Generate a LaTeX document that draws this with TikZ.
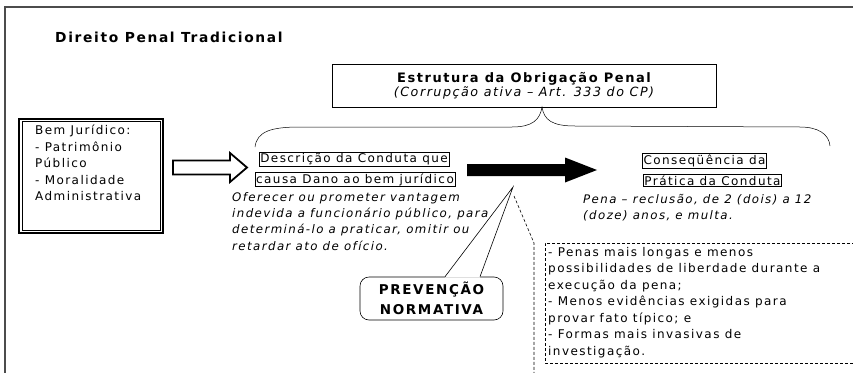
\documentclass[tikz,border=0pt]{standalone}
\usepackage{fontspec}
\setmainfont{DejaVu Sans}
\newfontfamily\handfont[LetterSpace=12]{DejaVu Sans}
\begin{document}
\begin{tikzpicture}[x=1pt,y=-1pt]
\tikzstyle{every node}+=[inner sep=0pt]
\tikzstyle{plain}=[font=\handfont\fontsize{12}{16.5}\selectfont, align=left]
\tikzstyle{slant}=[font=\handfont\itshape\fontsize{11.8}{16.3}\selectfont, align=left]
\tikzstyle{tagbox}=[draw=black, line width=0.6pt, inner sep=1.2pt, plain]
\tikzstyle{hollowarrow}=[draw=black, line width=1.8pt, fill=white, line join=miter]
\tikzstyle{bigarrow}=[fill=black]
\tikzstyle{frameline}=[draw=black!70, line width=2.5pt]
\tikzstyle{dashline}=[draw=black, line width=0.6pt, dash pattern=on 3pt off 2pt]
\useasboundingbox (0,0) rectangle (853,372);
\clip (0,0) rectangle (853,372);
\fill[white] (0,0) rectangle (853,372);
% moldura
\draw[frameline] (5,380) -- (5,7) -- (860,7);
\node[anchor=west, font=\handfont\bfseries\fontsize{13.8}{16}\selectfont] (titulo) at (55,37) {Direito Penal Tradicional};
% estrutura da obrigacao
\node[draw, line width=0.6pt, minimum width=384pt, minimum height=43pt, align=center] (estrutura) at (524,85.5)
  {{\handfont\bfseries\fontsize{13}{19}\selectfont Estrutura da Obrigação Penal}\\
   {\handfont\itshape\fontsize{12.7}{19}\selectfont (Corrupção ativa – Art. 333 do CP)}};
\coordinate (cusp) at (542,107);
\draw[line width=0.5pt] (255,147) .. controls (257,131) and (272,127) .. (300,127) -- (512,127)
  .. controls (532,127) and (540,120) .. (cusp)
  .. controls (544,120) and (552,126) .. (575,126) -- (800,127)
  .. controls (818,127) and (829,134) .. (830,146);
% bem juridico
\node[draw, line width=1.4pt, minimum width=144pt, minimum height=114pt] (bem) at (91,176) {};
\draw[line width=0.6pt] ([xshift=3.5pt,yshift=-3pt]bem.north west) rectangle ([xshift=-3pt,yshift=3.5pt]bem.south east);
\node[plain, anchor=north west] (bemtxt) at (35,125) {Bem Jurídico:\\- Patrimônio\\Público\\- Moralidade\\Administrativa};
\coordinate (setaA) at (173,167.5);
\draw[hollowarrow] (setaA) -- ++(0,-7) -- ++(57,0) -- ++(0,-7.5) -- ++(17,14.5) -- ++(-17,14.5) -- ++(0,-7.5) -- ++(-57,0) -- cycle;
% conduta
\node[tagbox] (desc1) at (354,159) {Descrição da Conduta que};
\node[tagbox] (desc2) at (355,179.5) {causa Dano ao bem jurídico};
\node[slant, anchor=north west] (desctxt) at (232,192) {Oferecer ou prometer vantagem\\indevida a funcionário público, para\\determiná-lo a praticar, omitir ou\\retardar ato de ofício.};
\coordinate (setaB) at (467,170);
\fill[bigarrow] (setaB) -- ++(0,-6) -- ++(98,0) -- ++(0,-6.5) -- ++(32,12.5) -- ++(-32,12.5) -- ++(0,-6.5) -- ++(-98,0) -- cycle;
% consequencia
\node[tagbox] (cons1) at (704.5,161) {Conseqüência da};
\node[tagbox] (cons2) at (712.5,180.5) {Prática da Conduta};
\node[slant, anchor=north west] (pena) at (583,194) {Pena – reclusão, de 2 (dois) a 12\\(doze) anos, e multa.};
% prevencao
\node[draw, rounded corners=9pt, line width=0.6pt, minimum width=143pt, minimum height=43pt, align=center,
  font=\handfont\bfseries\fontsize{13.5}{20}\selectfont] (prev) at (431.5,298.5) {PREVENÇÃO\\NORMATIVA};
\coordinate (prevtip) at (513,187);
\fill[white] ([xshift=13.5pt,yshift=-0.8pt]prev.north) -- (prevtip) -- ([xshift=48.5pt,yshift=-0.8pt]prev.north) -- cycle;
\draw[line width=0.6pt] ([xshift=13.5pt]prev.north) -- (prevtip) -- ([xshift=48.5pt]prev.north);
% efeitos
\coordinate (dashstart) at (514,196);
\coordinate (dashbend) at (534,243);
\draw[dashline] (dashstart) -- (dashbend) -- (534,380);
\draw[dashline] (870,243) -- (545,243) -- (545,363) -- (870,363);
\node[plain, anchor=north west] (efeitos) at (548,247) {- Penas mais longas e menos\\possibilidades de liberdade durante a\\execução da pena;\\- Menos evidências exigidas para\\provar fato típico; e\\- Formas mais invasivas de\\investigação.};
\end{tikzpicture}
\end{document}
